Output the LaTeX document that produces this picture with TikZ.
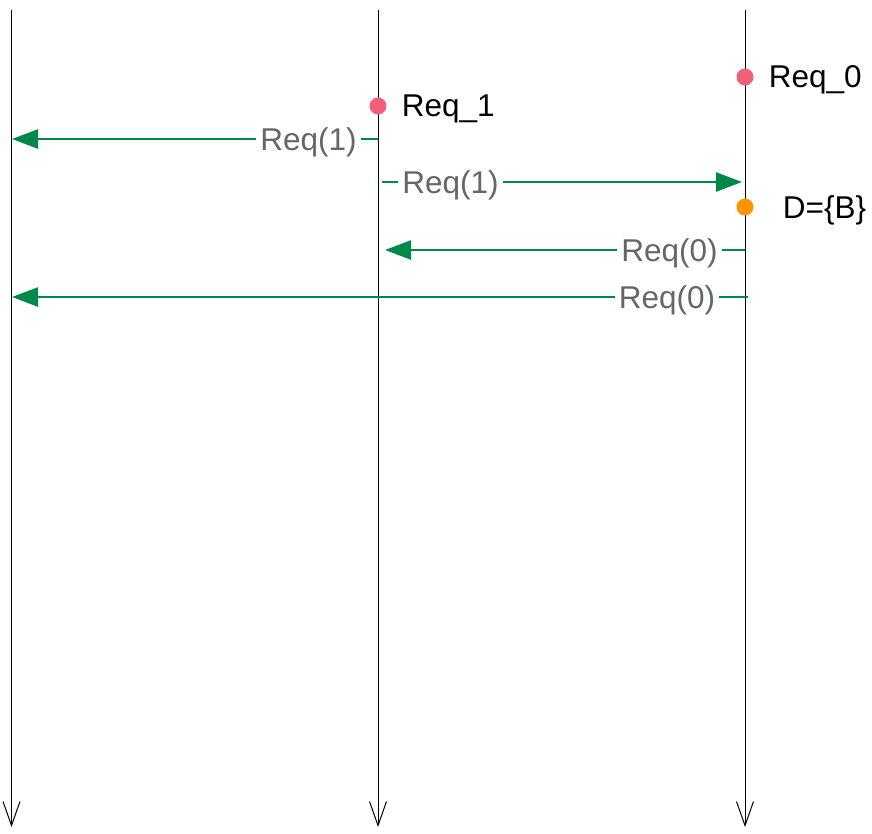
\documentclass[tikz,border=0pt]{standalone}
\usepackage{fontspec}
\setmainfont{Liberation Sans}
\usetikzlibrary{arrows.meta}

\definecolor{msggreen}{HTML}{00884A}
\definecolor{reqred}{HTML}{F0607A}
\definecolor{decorange}{HTML}{FF9400}
\definecolor{msggray}{HTML}{666666}

\begin{document}
\begin{tikzpicture}[x=1pt,y=-1pt,font=\fontsize{31.5}{37}\selectfont]
        \tikzset{proc/.style={draw,line width=1pt,-{Straight Barb[length=24pt,width=17pt]}}}
        \tikzset{msg/.style={draw=msggreen,line width=2.5pt,-{Triangle[length=26pt,width=19pt]}}}
        \tikzset{lbl/.style={fill=white,text=msggray,inner sep=4pt,yshift=-3pt}}
        \tikzset{dot/.style={circle,inner sep=0pt,minimum size=17pt}}
        \tikzset{tag/.style={inner sep=0pt,yshift=-3pt}}

        \useasboundingbox (0,0) rectangle (872,833);

        % one time line per process
        \foreach \p/\x in {a/11.5,b/378,c/745} {
            \coordinate (\p-top) at (\x,10);
            \coordinate (\p-end) at (\x,827);
            \draw[proc] (\p-top) -- (\p-end);
        }

        % events
        \node[dot,fill=reqred,label={[tag,label distance=15pt]right:Req\_1}] (req1) at (378,106) {};
        \node[dot,fill=reqred,label={[tag,label distance=15pt]right:Req\_0}] (req0) at (745,77) {};
        \node[dot,fill=decorange,label={[tag,label distance=29pt]right:D=\{B\}}] (dec) at (745,207) {};

        % message end points
        \coordinate (b-s1) at (378,139);
        \coordinate (a-r1) at (12,139);
        \coordinate (b-s2) at (382,182);
        \coordinate (c-r2) at (742,182);
        \coordinate (c-s3) at (745,250);
        \coordinate (b-r3) at (385,250);
        \coordinate (c-s4) at (748,297);
        \coordinate (a-r4) at (12,297);

        \draw[msg] (b-s1) -- node[lbl,pos=0.19] (m1) {Req(1)} (a-r1);
        \draw[msg] (b-s2) -- node[lbl,pos=0.19] (m2) {Req(1)} (c-r2);
        \draw[msg] (c-s3) -- node[lbl,pos=0.21] (m3) {Req(0)} (b-r3);
        \draw[msg] (c-s4) -- node[lbl,pos=0.11] (m4) {Req(0)} (a-r4);
\end{tikzpicture}
\end{document}
